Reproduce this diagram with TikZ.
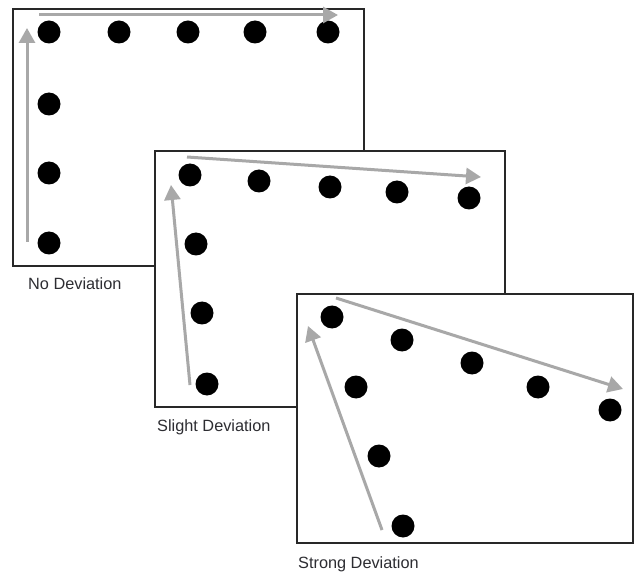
\documentclass[tikz,border=0pt]{standalone}
\usepackage{fontspec}
\setmainfont{Liberation Sans}
\usetikzlibrary{arrows.meta}
\definecolor{arrowgray}{RGB}{168,168,168}
\definecolor{framegray}{RGB}{40,40,40}
\definecolor{labelgray}{RGB}{45,45,50}
\tikzset{
  panel/.style={draw=framegray, line width=1.3pt, fill=white},
  dot/.style={circle, fill=black, inner sep=0pt, minimum size=23pt},
  trend/.style={draw=arrowgray, line width=3pt,
    -{Triangle[length=15pt, width=16pt]}},
  caption/.style={anchor=base west, inner sep=0pt, text=labelgray,
    font=\fontsize{16.3pt}{18pt}\selectfont}
}
\begin{document}
\begin{tikzpicture}[x=1pt, y=-1pt]
\useasboundingbox (0,0) rectangle (635,572);

% ---- No deviation ----
\draw[panel] (13,9) rectangle (364,266);
\node[dot] (a1) at (49,32) {};
\node[dot] (a2) at (119,32) {};
\node[dot] (a3) at (188,32) {};
\node[dot] (a4) at (255,32) {};
\node[dot] (a5) at (328,32) {};
\node[dot] (a6) at (49,104) {};
\node[dot] (a7) at (49,173) {};
\node[dot] (a8) at (49,243) {};
\coordinate (av0) at (27,242);
\coordinate (av1) at (27,28);
\coordinate (ah0) at (39,15);
\coordinate (ah1) at (338,15);
\draw[trend] (av0) -- (av1);
\draw[trend] (ah0) -- (ah1);
\node[caption] (la) at (28,290) {No Deviation};

% ---- Slight deviation ----
\draw[panel] (155,151) rectangle (505,407);
\node[dot] (b1) at (190,175) {};
\node[dot] (b2) at (259,181) {};
\node[dot] (b3) at (330,187) {};
\node[dot] (b4) at (397,192) {};
\node[dot] (b5) at (469,198) {};
\node[dot] (b6) at (196,244) {};
\node[dot] (b7) at (202,313) {};
\node[dot] (b8) at (207,384) {};
\coordinate (bv0) at (190,385);
\coordinate (bv1) at (171,185);
\coordinate (bh0) at (187,157);
\coordinate (bh1) at (481,177);
\draw[trend] (bv0) -- (bv1);
\draw[trend] (bh0) -- (bh1);
\node[caption] (lb) at (157,431) {Slight Deviation};

% ---- Strong deviation ----
\draw[panel] (297,294) rectangle (633,543);
\node[dot] (c1) at (332,317) {};
\node[dot] (c2) at (402,340) {};
\node[dot] (c3) at (472,363) {};
\node[dot] (c4) at (538,387) {};
\node[dot] (c5) at (610,410) {};
\node[dot] (c6) at (356,387) {};
\node[dot] (c7) at (379,456) {};
\node[dot] (c8) at (403,526) {};
\coordinate (cv0) at (382,530);
\coordinate (cv1) at (308,326);
\coordinate (ch0) at (336,298);
\coordinate (ch1) at (623,389);
\draw[trend] (cv0) -- (cv1);
\draw[trend] (ch0) -- (ch1);
\node[caption] (lc) at (298,568) {Strong Deviation};
\end{tikzpicture}
\end{document}
